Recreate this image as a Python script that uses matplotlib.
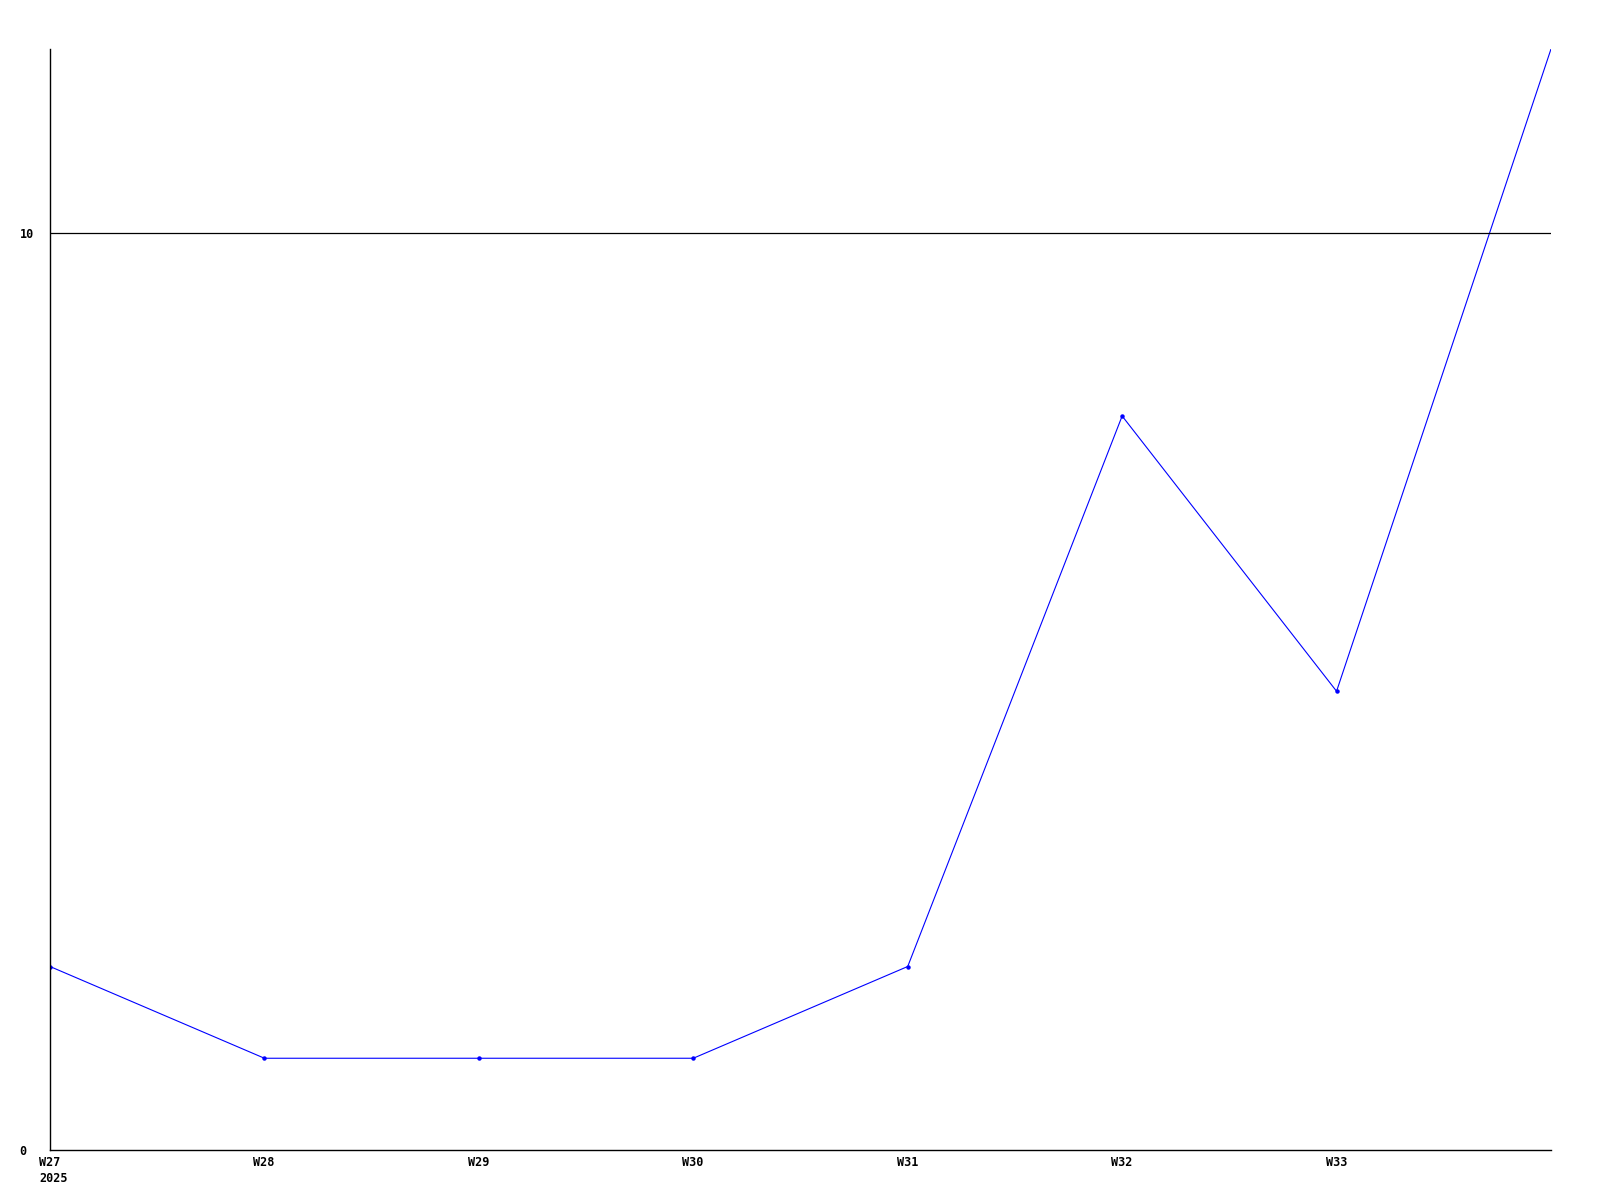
import matplotlib
matplotlib.use("Agg")
import matplotlib.pyplot as plt
import matplotlib.transforms as mtransforms

# weekly values
weeks = ["W27", "W28", "W29", "W30", "W31", "W32", "W33", "W34"]
values = [2, 1, 1, 1, 2, 8, 5, 12]
tick_labels = ["W27\n2025", "W28", "W29", "W30", "W31", "W32", "W33"]
y_ticks = [0, 10]

fig = plt.figure(figsize=(16, 12), dpi=100)
ax = fig.add_axes([50 / 1600, 1 - 1150 / 1200, 1501 / 1600, 1101 / 1200])

x = list(range(len(weeks)))
ax.plot(x, values, color="#0000ff", lw=0.8, marker="o", ms=2.2,
        markevery=list(range(len(weeks) - 1)))
ax.axhline(10, color="black", lw=0.9)

ax.set_xlim(0, len(weeks) - 1)
ax.set_ylim(0, 12)

for s in ["top", "right"]:
    ax.spines[s].set_visible(False)
for s in ["left", "bottom"]:
    ax.spines[s].set_linewidth(1.0)

font = dict(family="DejaVu Sans Mono", weight="bold", size=8.5)
ax.set_xticks(x[:-1])
ax.set_xticklabels(tick_labels, ha="left", va="top", linespacing=1.35, **font)
ax.set_yticks(y_ticks)
ax.set_yticklabels([str(v) for v in y_ticks], ha="left", **font)
ax.tick_params(axis="x", length=0, pad=4)
ax.tick_params(axis="y", length=0, pad=22)
# labels start a little left of their tick, like the original
offset = mtransforms.ScaledTranslation(-11 / 100, 0, fig.dpi_scale_trans)
for lbl in ax.get_xticklabels():
    lbl.set_transform(lbl.get_transform() + offset)

fig.savefig("out.png", dpi=100, facecolor="white")
